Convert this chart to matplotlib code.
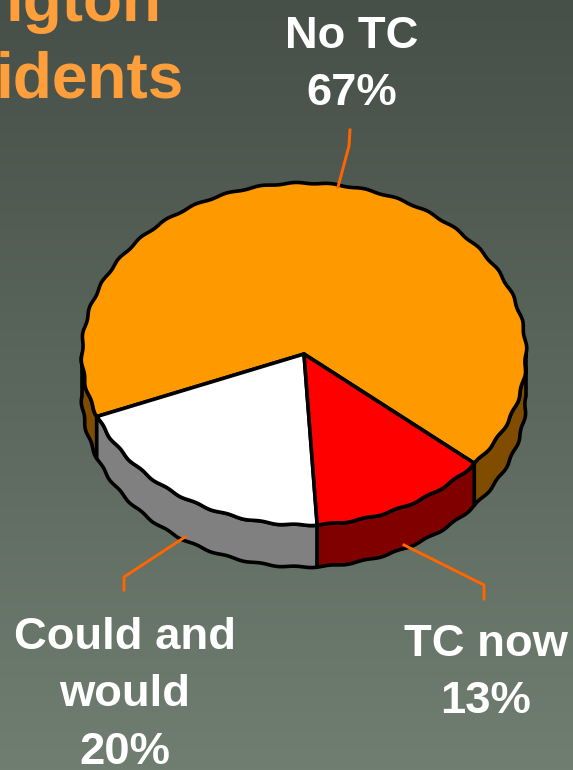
import numpy as np
import matplotlib
matplotlib.use("Agg")
import matplotlib.pyplot as plt
from matplotlib.patches import Polygon

# Data, counter clockwise from the start angle
labels = ["No TC\n67%", "Could and\nwould\n20%", "TC now\n13%"]
values = [67, 20, 13]
top_colors = ["#ff9900", "#ffffff", "#ff0000"]
side_colors = ["#804d00", "#808080", "#800000"]

# Pie geometry in pixels
cx, cy = 304, 354
rx, ry = 222, 171
depth = 42
start_angle = -39.8  # No TC starts here

plt.rcParams['font.family'] = ['Liberation Sans', 'DejaVu Sans']
fig = plt.figure(figsize=(5.73, 7.70), dpi=100)
ax = fig.add_axes([0, 0, 1, 1])
ax.set_xlim(0, 573)
ax.set_ylim(770, 0)
ax.axis("off")

# Background gradient, dark at the top
top = np.array([0x46, 0x4f, 0x48]) / 255
bottom = np.array([0x70, 0x7e, 0x71]) / 255
t = np.linspace(0, 1, 256)[:, None, None]
ax.imshow(top + (bottom - top) * t, extent=[0, 573, 770, 0], aspect="auto", zorder=0)


def rim(a0, a1):
    a = np.radians(np.linspace(a0, a1, 400))
    # small ripple, the outline in the slide is rough
    wob = 1 + 0.004 * np.sin(a * 40)
    return cx + rx * wob * np.cos(a), cy - ry * wob * np.sin(a)


# Wedge limits from the values
angles = start_angle + np.cumsum([0] + values) * 3.6
black = dict(edgecolor="black", linewidth=2.6, joinstyle="round")

# Side walls: only the front half of the rim (180 to 360 degrees) can be seen
for i in range(len(values)):
    for shift in (-360, 0, 360):
        a0 = max(angles[i] + shift, 180)
        a1 = min(angles[i + 1] + shift, 360)
        if a1 <= a0:
            continue
        x, y = rim(a0, a1)
        pts = np.r_[np.c_[x, y], np.c_[x[::-1], y[::-1] + depth]]
        ax.add_patch(Polygon(pts, closed=True, facecolor=side_colors[i], zorder=2, **black))

# Top faces
for i in range(len(values)):
    x, y = rim(angles[i], angles[i + 1])
    pts = np.r_[[[cx, cy]], np.c_[x, y]]
    ax.add_patch(Polygon(pts, closed=True, facecolor=top_colors[i], zorder=3, **black))

# Leader lines
leader = "#ff6600"
ax.plot([338, 349, 350], [187, 146, 130], color=leader, lw=2.1, zorder=4)
ax.plot([404, 484, 484], [545, 585, 599], color=leader, lw=2.1, zorder=4)
ax.plot([185, 124, 124], [537, 577, 590], color=leader, lw=2.1, zorder=4)

# Labels
tx = dict(color="white", fontweight="bold", fontsize=32.7, ha="center", va="center",
          linespacing=1.53, zorder=5)
ax.text(352, 65, labels[0], **tx)
ax.text(125, 695, labels[1], **tx)
ax.text(486, 673, labels[2], **tx)

# Title is cut off by the slide edge
title = dict(color="#ff9f3c", fontweight="bold", fontsize=46, ha="left", va="baseline", zorder=5)
ax.text(5, 21, "igton", **title)
ax.text(-4, 98, "idents", **title)

fig.savefig("out.png", dpi=100)
